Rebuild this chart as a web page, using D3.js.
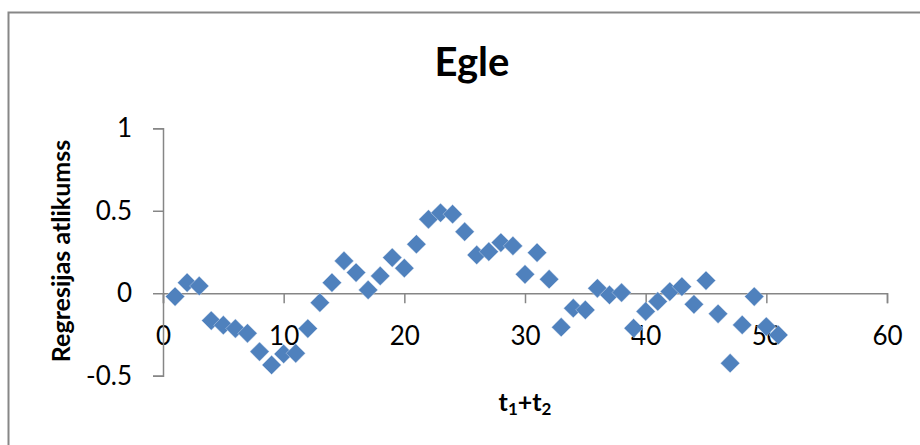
<!DOCTYPE html>
<html>
<head>
<meta charset="utf-8">
<script src="https://cdn.jsdelivr.net/npm/d3@7"></script>
<style>
  body { margin: 0; background: #fff; }
  svg { display: block; font-family: Lato, "Open Sans", sans-serif; }
</style>
</head>
<body>
<div id="chart"></div>
<script>
'use strict';

// residuals
var tValues = [1, 2, 3, 4, 5, 6, 7, 8, 9, 10,
               11, 12, 13, 14, 15, 16, 17, 18, 19, 20,
               21, 22, 23, 24, 25, 26, 27, 28, 29, 30,
               31, 32, 33, 34, 35, 36, 37, 38, 39, 40,
               41, 42, 43, 44, 45, 46, 47, 48, 49, 50, 51];
var residuals = [-0.02, 0.064, 0.044, -0.166, -0.194, -0.214, -0.243, -0.354, -0.435, -0.368,
                 -0.364, -0.214, -0.057, 0.064, 0.196, 0.125, 0.02, 0.105, 0.216, 0.152,
                 0.297, 0.448, 0.488, 0.479, 0.373, 0.232, 0.252, 0.307, 0.287, 0.115,
                 0.246, 0.085, -0.206, -0.091, -0.101, 0.03, -0.01, 0.004, -0.212, -0.11,
                 -0.05, 0.01, 0.04, -0.067, 0.077, -0.125, -0.424, -0.192, -0.02, -0.202, -0.253];
var xTicks = [0, 10, 20, 30, 40, 50, 60];
var yTicks = [-0.5, 0, 0.5, 1];

var width = 920, height = 445;

var svg = d3.select('#chart').append('svg')
    .attr('width', width)
    .attr('height', height);

// chart frame runs off the right and bottom edge
svg.append('rect')
    .attr('x', 8.5).attr('y', 12.5)
    .attr('width', 1000).attr('height', 1000)
    .attr('fill', 'none')
    .attr('stroke', '#878787')
    .attr('stroke-width', 2);

var x = d3.scaleLinear().domain([0, 60]).range([163, 887]);
var y = d3.scaleLinear().domain([-0.5, 1]).range([375.7, 128.3]);

var xAxis = svg.append('g')
    .attr('transform', 'translate(0,' + y(0) + ')')
    .call(d3.axisBottom(x).tickValues(xTicks).tickSize(10).tickPadding(23)
      .tickFormat(d3.format('d')));

var yAxis = svg.append('g')
    .attr('transform', 'translate(' + x(0) + ',0)')
    .call(d3.axisLeft(y).tickValues(yTicks).tickSize(10).tickPadding(21)
      .tickFormat(function(d){ return d === 0 ? '0' : String(d); }));

[xAxis, yAxis].forEach(function(g){
  g.selectAll('path, line')
      .attr('stroke', '#868686')
      .attr('stroke-width', 1.5);
  g.selectAll('text')
      .attr('fill', '#000')
      .style('font-family', 'Lato, "Open Sans", sans-serif')
      .style('font-size', '26px');
});

var diamond = d3.symbol().type(d3.symbolSquare).size(185);

svg.append('g')
  .selectAll('path')
    .data(tValues)
  .enter().append('path')
    .attr('d', diamond)
    .attr('transform', function(d, i){
      return 'translate(' + x(d) + ',' + y(residuals[i]) + ') rotate(45)';
    })
    .attr('fill', '#4F81BD')
    .attr('stroke', '#dfe7f2')
    .attr('stroke-width', 0.4);

// title
svg.append('text')
    .attr('x', 472).attr('y', 76)
    .attr('text-anchor', 'middle')
    .style('font-weight', 'bold')
    .style('font-size', '40px')
    .text('Egle');

// y title
svg.append('text')
    .attr('transform', 'translate(70,251) rotate(-90)')
    .attr('text-anchor', 'middle')
    .style('font-weight', 'bold')
    .style('font-size', '25px')
    .text('Regresijas atlikumss');

// x title with subscripts
var xt = svg.append('text')
    .attr('x', 525).attr('y', 410.7)
    .attr('text-anchor', 'middle')
    .style('font-weight', 'bold')
    .style('font-size', '25px');
xt.append('tspan').text('t');
xt.append('tspan').attr('dy', 4).style('font-size', '17px').text('1');
xt.append('tspan').attr('dy', -4).text('+t');
xt.append('tspan').attr('dy', 4).style('font-size', '17px').text('2');
</script>
</body>
</html>
